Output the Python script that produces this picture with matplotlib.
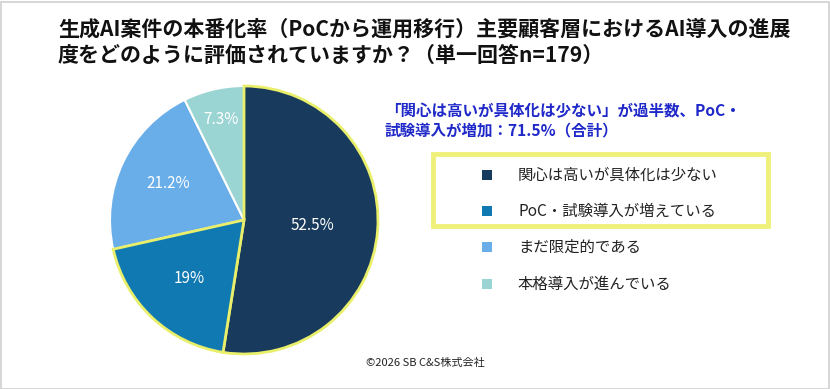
import matplotlib
matplotlib.use("Agg")
import matplotlib.pyplot as plt
from matplotlib.patches import Rectangle
import numpy as np

plt.rcParams['font.family'] = ['Noto Sans CJK JP', 'DejaVu Sans']

title = "生成AI案件の本番化率（PoCから運用移行）主要顧客層におけるAI導入の進展\n度をどのように評価されていますか？（単一回答n=179）"
categories = ["関心は高いが具体化は少ない", "PoC・試験導入が増えている", "まだ限定的である", "本格導入が進んでいる"]
values = [52.5, 19.0, 21.2, 7.3]
labels = ["52.5%", "19%", "21.2%", "7.3%"]
colors = ["#183a5c", "#1179b2", "#6aaee9", "#9bd5d3"]
highlight = [True, True, False, False]
note = "「関心は高いが具体化は少ない」が過半数、PoC・\n試験導入が増加：71.5%（合計）"
copyright_text = "©2026 SB C&S株式会社"

W, H = 830, 389
fig = plt.figure(figsize=(W/100, H/100), dpi=100)
fig.patch.set_facecolor("white")

# figure border
fig.add_artist(Rectangle((0.5/W, 0.5/H), 1-2/W, 1-2/H, transform=fig.transFigure,
                         fill=False, edgecolor="#d0d0d0", linewidth=1.2))

fig.text(58/W, 1-19/H, title, ha="left", va="top", fontsize=15.1, fontweight="bold",
         color="#111111", linespacing=1.3)

# pie
cx, cy, r = 244, 220, 134
ax = fig.add_axes([(cx-r)/W, 1-(cy+r)/H, 2*r/W, 2*r/H])
wedges, texts = ax.pie(values, colors=colors, startangle=90, counterclock=False,
                       wedgeprops=dict(edgecolor="white", linewidth=1.5))
for w, h in zip(wedges, highlight):
    if h:
        w.set_edgecolor("#e9ef6a")
        w.set_linewidth(2.0)
        w.set_zorder(3)
ax.set_aspect("equal")
ax.set_xlim(-1.0, 1.0)
ax.set_ylim(-1.0, 1.0)
ax.axis("off")

ang = 90.0
for v, lab, rr in zip(values, labels, [0.51, 0.6, 0.63, 0.77]):
    mid = ang - v/100*360/2
    ang -= v/100*360
    x = rr*np.cos(np.radians(mid)); y = rr*np.sin(np.radians(mid))
    ax.text(x, y, lab, ha="center", va="center", fontsize=11, color="white", zorder=5)

# note
fig.text(385/W, 1-121/H, note, ha="left", va="center", fontsize=11.2, fontweight="bold",
         color="#1f28c8", linespacing=1.3)

# legend highlight box
fig.add_artist(Rectangle((433/W, 1-226/H), (768-433)/W, (226-154)/H, transform=fig.transFigure,
                         fill=False, edgecolor="#eef07a", linewidth=3.5))

rows_y = [175, 211, 247, 284]
for c, lab, yy in zip(colors, categories, rows_y):
    fig.add_artist(Rectangle((482/W, 1-(yy+5)/H), 10/W, 10/H, transform=fig.transFigure,
                             facecolor=c, edgecolor="none"))
    fig.text(518/W, 1-yy/H, lab, ha="left", va="center", fontsize=11.1, color="#222222")

fig.text(366/W, 1-363/H, copyright_text, ha="left", va="center", fontsize=8, color="#222222")

fig.savefig("out.png", dpi=100, facecolor="white")
